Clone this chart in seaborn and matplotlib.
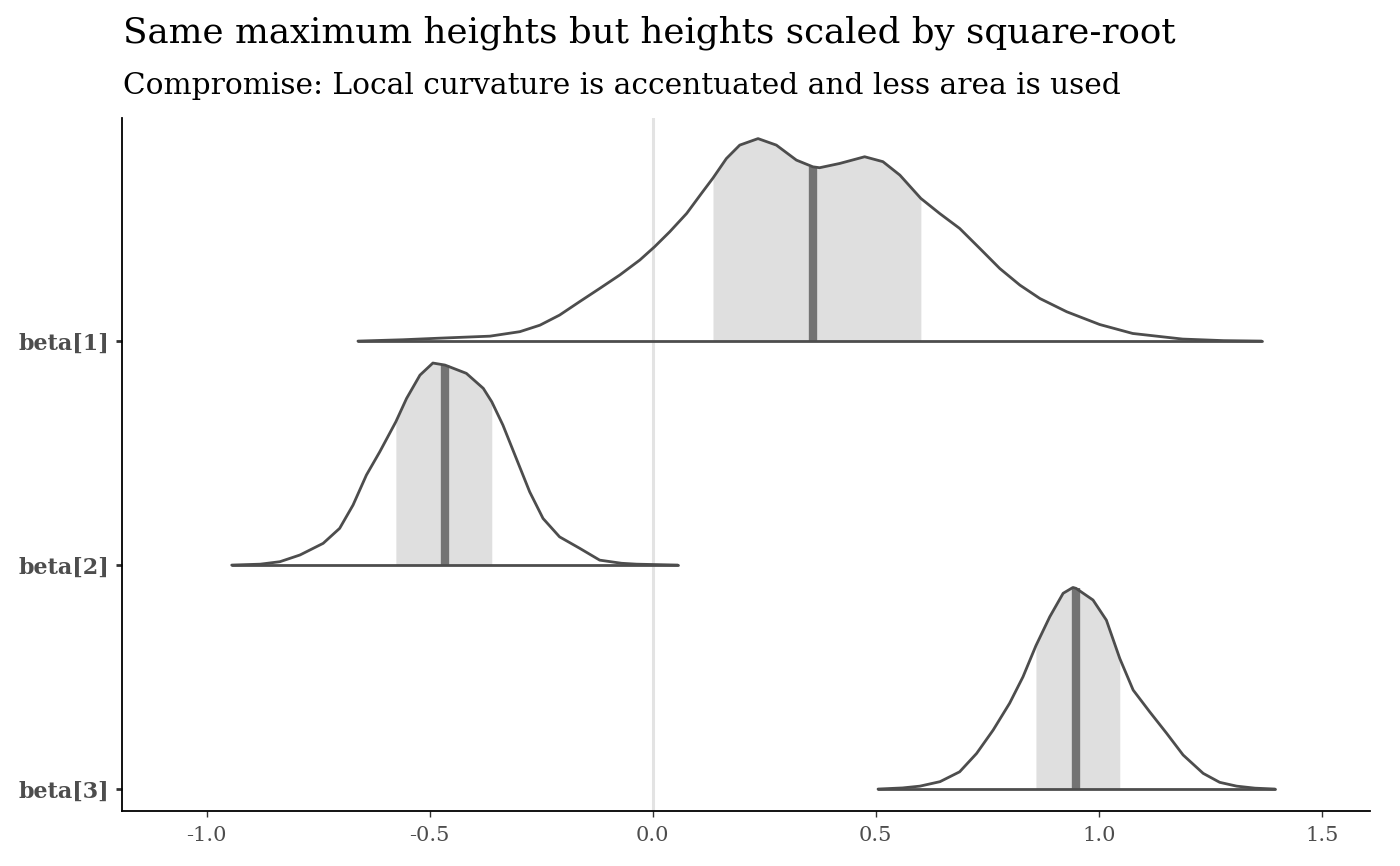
import numpy as np
import pandas as pd
import matplotlib
matplotlib.use("Agg")
import matplotlib.pyplot as plt
import seaborn as sns

# parameter names, top to bottom
params = ["beta[1]", "beta[2]", "beta[3]"]

# density outlines (x = parameter value, h = scaled height)
beta1_x = [-0.661, -0.560, -0.478, -0.365, -0.298, -0.253, -0.209, -0.164, -0.119, -0.074,
           -0.029, 0.004, 0.038, 0.076, 0.109, 0.135, 0.165, 0.195, 0.236, 0.277,
           0.322, 0.359, 0.374, 0.419, 0.475, 0.516, 0.554, 0.601, 0.643, 0.688,
           0.733, 0.778, 0.823, 0.868, 0.928, 1.002, 1.076, 1.188, 1.280, 1.365]
beta1_h = [0.000, 0.006, 0.013, 0.022, 0.042, 0.071, 0.116, 0.176, 0.235, 0.295,
           0.362, 0.421, 0.488, 0.570, 0.659, 0.728, 0.815, 0.875, 0.904, 0.875,
           0.808, 0.778, 0.774, 0.793, 0.823, 0.801, 0.741, 0.637, 0.570, 0.503,
           0.414, 0.324, 0.250, 0.190, 0.131, 0.074, 0.034, 0.009, 0.002, 0.000]

beta2_x = [-0.944, -0.880, -0.836, -0.791, -0.739, -0.702, -0.672, -0.642, -0.612, -0.576,
           -0.552, -0.522, -0.493, -0.466, -0.418, -0.380, -0.361, -0.336, -0.306, -0.276,
           -0.246, -0.209, -0.164, -0.119, -0.070, -0.036, 0.056]
beta2_h = [0.000, 0.004, 0.015, 0.045, 0.097, 0.164, 0.268, 0.402, 0.506, 0.640,
           0.744, 0.848, 0.902, 0.893, 0.856, 0.789, 0.729, 0.625, 0.476, 0.327,
           0.208, 0.126, 0.075, 0.022, 0.008, 0.004, 0.000]

beta3_x = [0.505, 0.560, 0.599, 0.644, 0.688, 0.726, 0.763, 0.800, 0.830, 0.859,
           0.890, 0.920, 0.942, 0.949, 0.987, 1.017, 1.047, 1.077, 1.114, 1.152,
           1.189, 1.234, 1.271, 1.309, 1.350, 1.395]
beta3_h = [0.000, 0.005, 0.013, 0.033, 0.077, 0.159, 0.263, 0.383, 0.501, 0.640,
           0.769, 0.874, 0.900, 0.896, 0.844, 0.754, 0.583, 0.442, 0.345, 0.249,
           0.152, 0.070, 0.030, 0.013, 0.004, 0.000]

# 50% intervals and medians
inner_lo = [0.135, -0.576, 0.859]
inner_hi = [0.601, -0.361, 1.047]
medians = [0.359, -0.466, 0.949]

xticks = [-1.0, -0.5, 0.0, 0.5, 1.0, 1.5]

curves = [(beta1_x, beta1_h), (beta2_x, beta2_h), (beta3_x, beta3_h)]

sns.set_theme(style="white")
plt.rcParams["font.family"] = ["DejaVu Serif"]

fig = plt.figure(figsize=(14, 8.66), dpi=100)
ax = fig.add_axes([122 / 1400, 1 - 811 / 866, (1370 - 122) / 1400, (811 - 118) / 866])

outline = "#4d4d4d"
ax.axvline(0, color="#e3e3e3", lw=2.2, zorder=0)

for i, name in enumerate(params):
    base = len(params) - 1 - i
    x = np.array(curves[i][0])
    h = np.array(curves[i][1])
    df = pd.DataFrame({"x": x, "y": base + h})
    mask = (x >= inner_lo[i]) & (x <= inner_hi[i])
    ax.fill_between(x, base, base + h, where=mask, color="#dfdfdf", lw=0, zorder=1)
    hm = np.interp(medians[i], x, h)
    ax.vlines(medians[i], base, base + hm, color="#737373", lw=6.0, zorder=2)
    sns.lineplot(data=df, x="x", y="y", ax=ax, color=outline, lw=2.0,
                 estimator=None, sort=False, zorder=3)
    ax.plot([x[0], x[-1]], [base, base], color=outline, lw=2.0,
            solid_capstyle="round", zorder=3)

for line in ax.get_lines():
    line.set_solid_joinstyle("round")

ax.set_xlim(-1.19, 1.608)
ax.set_ylim(-0.098, 2.996)
ax.set_xticks(xticks)
ax.set_xticklabels([f"{t:.1f}" for t in xticks])
ax.set_yticks([2, 1, 0])
ax.set_yticklabels(params, fontweight="bold")
ax.set_xlabel("")
ax.set_ylabel("")

for side in ["top", "right"]:
    ax.spines[side].set_visible(False)
for side in ["left", "bottom"]:
    ax.spines[side].set_color("black")
    ax.spines[side].set_linewidth(1.3)

ax.tick_params(axis="y", length=4.5, width=2.0, color="#333333", pad=4.5,
               labelsize=16, labelcolor="#4d4d4d", left=True)
ax.tick_params(axis="x", length=4.5, width=1.0, color="#333333", pad=6,
               labelsize=15, labelcolor="#4d4d4d", bottom=True)

fig.text(123 / 1400, 1 - 42 / 866, "Same maximum heights but heights scaled by square-root",
         fontsize=25.7, color="black", va="baseline", ha="left")
fig.text(123 / 1400, 1 - 94 / 866, "Compromise: Local curvature is accentuated and less area is used",
         fontsize=21.3, color="black", va="baseline", ha="left")

fig.savefig("out.png", dpi=100)
